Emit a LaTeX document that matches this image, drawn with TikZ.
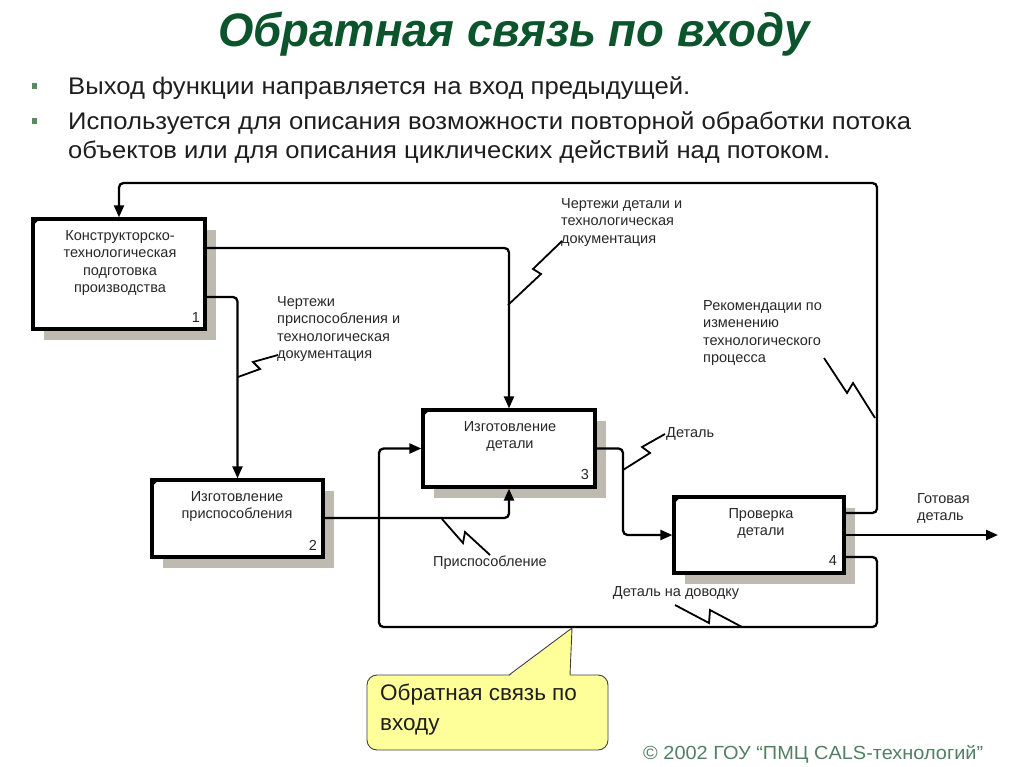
\documentclass[tikz,border=0pt]{standalone}
\usepackage{fontspec}
\usepackage{graphicx}
\setmainfont{Liberation Sans}
\usetikzlibrary{arrows.meta,shadows}
\definecolor{titlegreen}{RGB}{12,84,44}
\definecolor{bulletgreen}{RGB}{88,140,96}
\definecolor{txt}{RGB}{30,30,30}
\definecolor{dtxt}{RGB}{40,40,40}
\definecolor{shadowgray}{RGB}{190,186,176}
\definecolor{calloutyellow}{RGB}{255,255,153}
\definecolor{footgreen}{RGB}{82,128,98}
\newcommand\fitw[2]{\resizebox{#1}{\height}{#2}}
\begin{document}
\begin{tikzpicture}[x=1pt,y=-1pt,
  fbox/.style={draw=black,line width=3.3pt,fill=white,inner sep=0pt,
    drop shadow={shadow xshift=11pt,shadow yshift=-11pt,fill=shadowgray,opacity=1}},
  dfont/.style={font=\fontsize{14.5}{17.5}\selectfont,text=dtxt,inner sep=0pt},
  conn/.style={draw=black,line width=2.3pt,rounded corners=4.5pt},
  arr/.style={-{Triangle[length=12pt,width=10pt]}},
  zig/.style={draw=black,line width=1.8pt,line join=miter},
  bul/.style={fill=bulletgreen,minimum size=5.5pt,inner sep=0pt},
  btxt/.style={font=\fontsize{24}{28}\selectfont,text=txt,inner sep=0pt,anchor=base west}]
\useasboundingbox (0,0) rectangle (1024,767);
\fill[white] (0,0) rectangle (1024,767);

% title and bullets
\node[font=\fontsize{47}{50}\selectfont\bfseries\itshape,text=titlegreen,inner sep=0pt,anchor=base] (title) at (514,47) {\fitw{592pt}{Обратная связь по входу}};
\node[bul] (bu1) at (34.5,86) {};
\node[bul] (bu2) at (34.5,121) {};
\node[btxt] (l1) at (68,95) {\fitw{622pt}{Выход функции направляется на вход предыдущей.}};
\node[btxt] (l2) at (68,130) {\fitw{843pt}{Используется для описания возможности повторной обработки потока}};
\node[btxt] (l3) at (68,159) {\fitw{762pt}{объектов или для описания циклических действий над потоком.}};

% boxes
\node[fbox,minimum width=172pt,minimum height=110pt] (b1) at (119,274) {};
\node[fbox,minimum width=171pt,minimum height=77pt] (b2) at (237.5,518.5) {};
\node[fbox,minimum width=172pt,minimum height=77pt] (b3) at (509,448.5) {};
\node[fbox,minimum width=170pt,minimum height=76pt] (b4) at (759,535) {};
\foreach \b in {b1,b2,b3,b4}{
  \fill ([xshift=0.5pt,yshift=-0.5pt]\b.north west) -- ++(9,0) -- ++(-9,9) -- cycle;
}
\node[dfont,align=center,anchor=north] (t1) at (120,230) {Конструкторско-\\технологическая\\подготовка\\производства};
\node[dfont,align=center,anchor=north] (t2) at (237,491) {Изготовление\\приспособления};
\node[dfont,align=center,anchor=north] (t3) at (510,421) {Изготовление\\детали};
\node[dfont,align=center,anchor=north] (t4) at (761,508) {Проверка\\детали};
\node[dfont] (n1) at (196,318) {1};
\node[dfont] (n2) at (313,545) {2};
\node[dfont] (n3) at (585,475) {3};
\node[dfont] (n4) at (833,561) {4};

% connectors
\coordinate (out) at (998,535);
\draw[conn,arr] (b4.east |- 0,513) -- (877,513) -- (877,183) -- (119,183) -- (b1.north);
\draw[conn,arr] (b1.east |- 0,248) -- (b3.north |- 0,248) -- (b3.north);
\draw[conn,arr] (b1.east |- 0,297) -- (b2.north |- 0,297) -- (b2.north);
\draw[conn,arr] (b2.east |- 0,518) -- (b3.south |- 0,518) -- (b3.south);
\draw[conn,arr] (b3.east) -- (623,448.5) -- (623,535) -- (b4.west);
\draw[conn,arr] (b4.east) -- (out);
\draw[conn,arr] (b4.east |- 0,557) -- (877,557) -- (877,627) -- (379,627) -- (379,448.5) -- (b3.west);

% squiggles
\draw[zig] (824,358) -- (847,393) -- (853,383) -- (875,418);
\draw[zig] (508,305) -- (541,274) -- (533,269) -- (562,241);
\draw[zig] (238,377) -- (260,369) -- (253,362) -- (278,355);
\draw[zig] (442,519) -- (463,543) -- (465,532) -- (490,555);
\draw[zig] (623,470) -- (650,453) -- (642,447) -- (665,434);
\draw[zig] (675,605) -- (709,623) -- (710,610) -- (742,627);

% labels
\node[dfont,align=left,anchor=north west] (lb1) at (703,300) {Рекомендации по\\изменению\\технологического\\процесса};
\node[dfont,align=left,anchor=north west] (lb2) at (561,198) {Чертежи детали и\\технологическая\\документация};
\node[dfont,align=left,anchor=north west] (lb3) at (277,296) {Чертежи\\приспособления и\\технологическая\\документация};
\node[dfont] (lb4) at (490,563) {Приспособление};
\node[dfont,anchor=west] (lb5) at (666,434) {Деталь};
\node[dfont,align=left,anchor=north west] (lb6) at (917,493) {Готовая\\деталь};
\node[dfont] (lb7) at (676,593) {Деталь на доводку};

% callout
\node[draw=black!75,line width=0.9pt,fill=calloutyellow,rounded corners=10pt,minimum width=241pt,minimum height=75pt,inner sep=0pt] (callout) at (487.5,712.5) {};
\fill[calloutyellow] (509,676.5) -- (572,628) -- (570,676.5) -- cycle;
\draw[draw=black!75,line width=0.9pt,line join=miter] (509,675) -- (572,628) -- (570,675);
\node[font=\fontsize{22.5}{30}\selectfont,text=txt,align=left,anchor=north west,inner sep=0pt] (ct) at (380,684) {Обратная связь по\\входу};

% footer
\node[font=\fontsize{19}{22}\selectfont,text=footgreen,inner sep=0pt,anchor=base west] (foot) at (643,759) {\fitw{340pt}{© 2002 ГОУ “ПМЦ CALS-технологий”}};
\end{tikzpicture}
\end{document}
